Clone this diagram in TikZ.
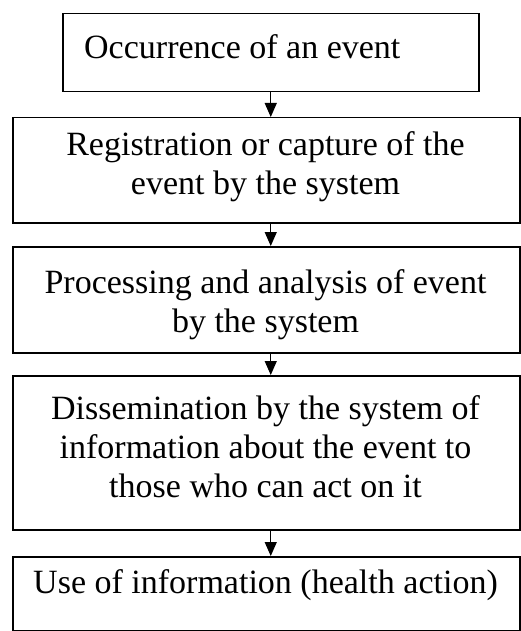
\documentclass[tikz,border=0pt]{standalone}
\usepackage{fontspec}
\setmainfont{Liberation Serif}
\usetikzlibrary{arrows.meta}
\tikzset{
  boxnode/.style={draw=black, line width=1.5pt, inner sep=0pt, anchor=north west},
  txt/.style={inner sep=0pt, font=\fontsize{34}{39}\selectfont, align=center},
  arr/.style={line width=1.2pt, -{Triangle[width=12pt,length=14pt]}}
}
\begin{document}
\begin{tikzpicture}[x=1pt,y=-1pt]
\useasboundingbox (0,0) rectangle (520,631);
\node[boxnode, minimum width=416pt, minimum height=78pt] (b1) at (62,13) {};
\node[boxnode, minimum width=507pt, minimum height=105pt] (b2) at (12,117) {};
\node[boxnode, minimum width=507pt, minimum height=106pt] (b3) at (12,246) {};
\node[boxnode, minimum width=507pt, minimum height=154pt] (b4) at (12,375) {};
\node[boxnode, minimum width=507pt, minimum height=74pt] (b5) at (12,556) {};

\node[txt, anchor=north west] (t1) at (84,34) {Occurrence of an event};
\node[txt, anchor=north] (t2) at (265.5,131) {Registration or capture of the\\event by the system};
\node[txt, anchor=north] (t3) at (265.5,269) {Processing and analysis of event\\by the system};
\node[txt, anchor=north] (t4) at (265.5,395) {Dissemination by the system of\\information about the event to\\those who can act on it};
\node[txt, anchor=north] (t5) at (265.5,569) {Use of information (health action)};

\draw[arr] (b1.south) -- (b1.south |- b2.north);
\draw[arr] (b1.south |- b2.south) -- (b1.south |- b3.north);
\draw[arr] (b1.south |- b3.south) -- (b1.south |- b4.north);
\draw[arr] (b1.south |- b4.south) -- (b1.south |- b5.north);
\end{tikzpicture}
\end{document}
